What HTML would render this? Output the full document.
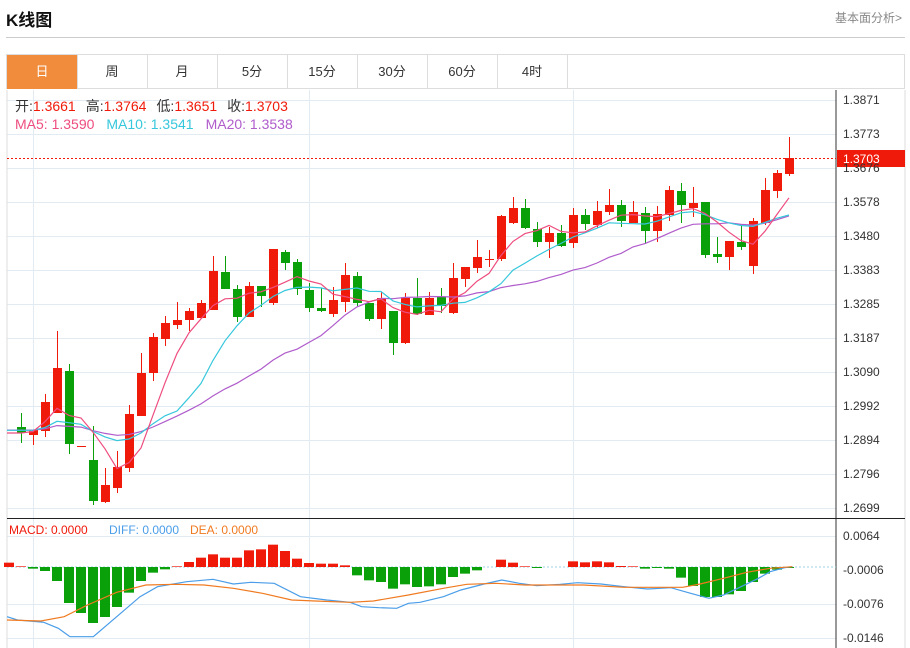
<!DOCTYPE html>
<html><head><meta charset="utf-8"><style>
body{margin:0;background:#fff;width:910px;height:648px;overflow:hidden;font-family:"Liberation Sans","Noto Sans CJK SC",sans-serif;}
.t{position:absolute;left:6px;top:6px;font-size:17px;font-weight:bold;color:#111;}
.more{position:absolute;right:8px;top:9px;font-size:12px;color:#888;}
.hl{position:absolute;left:6px;top:37px;width:899px;height:1px;background:#ccc;}
.tabs{position:absolute;left:6px;top:54px;height:35px;width:899px;border:1px solid #ddd;box-sizing:border-box;}
.tab{position:absolute;top:0;height:34px;width:70px;border-right:1px solid #ddd;text-align:center;line-height:34px;font-size:13px;color:#333;}
.tab.a{background:#f08c3c;color:#fff;}
svg{position:absolute;left:0;top:0;}
</style></head><body>
<div class="t">K线图</div><div class="more">基本面分析&gt;</div>
<div class="hl"></div>
<div class="tabs">
<div class="tab a" style="left:0">日</div><div class="tab" style="left:70px">周</div><div class="tab" style="left:140px">月</div><div class="tab" style="left:210px">5分</div><div class="tab" style="left:280px">15分</div><div class="tab" style="left:350px">30分</div><div class="tab" style="left:420px">60分</div><div class="tab" style="left:490px">4时</div>
</div>
<svg id="s" width="910" height="648" xmlns="http://www.w3.org/2000/svg" font-family="Liberation Sans, Noto Sans CJK SC, sans-serif">
<g id="grid" stroke="#e3ebf2" stroke-width="1"></g>
<line x1="7" y1="90" x2="7" y2="648" stroke="#ddd"/>
<line x1="836" y1="90" x2="836" y2="648" stroke="#333"/>
<line x1="905" y1="90" x2="905" y2="648" stroke="#ddd"/>
<line x1="7" y1="518.5" x2="905" y2="518.5" stroke="#222"/>
<line x1="7" y1="567" x2="836" y2="567" stroke="#9fd3e6" stroke-dasharray="2,2"/>
<g id="c"></g><g id="l"></g>
<line x1="7" y1="158.5" x2="836" y2="158.5" stroke="#f01a0a" stroke-dasharray="2,2"/>
<rect x="837" y="150" width="68" height="17" fill="#f01a0a"/>
<g font-size="12" fill="#333">
<text x="843" y="104">1.3871</text><text x="843" y="138">1.3773</text><text x="843" y="172">1.3676</text><text x="843" y="206">1.3578</text><text x="843" y="240">1.3480</text><text x="843" y="274">1.3383</text><text x="843" y="308">1.3285</text><text x="843" y="342">1.3187</text><text x="843" y="376">1.3090</text><text x="843" y="410">1.2992</text><text x="843" y="444">1.2894</text><text x="843" y="478">1.2796</text><text x="843" y="512">1.2699</text>
<text x="843" y="540">0.0064</text><text x="843" y="574">-0.0006</text><text x="843" y="608">-0.0076</text><text x="843" y="642">-0.0146</text>
</g>
<text x="843" y="163" font-size="12" fill="#fff">1.3703</text>
<g font-size="14">
<text x="15" y="111"><tspan fill="#333">开:</tspan><tspan fill="#f01a0a">1.3661</tspan><tspan fill="#333" dx="10">高:</tspan><tspan fill="#f01a0a">1.3764</tspan><tspan fill="#333" dx="10">低:</tspan><tspan fill="#f01a0a">1.3651</tspan><tspan fill="#333" dx="10">收:</tspan><tspan fill="#f01a0a">1.3703</tspan></text>
<text x="15" y="129"><tspan fill="#ee4d7f">MA5: 1.3590</tspan><tspan dx="12" fill="#36c7dc">MA10: 1.3541</tspan><tspan dx="12" fill="#b05ccb">MA20: 1.3538</tspan></text>
</g>
<g font-size="12"><text x="9" y="534" fill="#f01a0a">MACD: 0.0000</text><text x="109" y="534" fill="#4a9de8">DIFF: 0.0000</text><text x="190" y="534" fill="#f07a20">DEA: 0.0000</text></g>
</svg>
<script>
var NS="http://www.w3.org/2000/svg";
function el(p,n,a){var e=document.createElementNS(NS,n);for(var k in a)e.setAttribute(k,a[k]);document.getElementById(p).appendChild(e);return e;}
[100,134,168,202,236,270,304,338,372,406,440,474,508,536,604,638].forEach(function(y){el("grid","line",{x1:7,x2:836,y1:y+.5,y2:y+.5});});
[33,309,573].forEach(function(x){el("grid","line",{x1:x+.5,x2:x+.5,y1:90,y2:648});});
var D=`g 427 433 413 443
r 430 435 430 445
r 402 431 394 437
r 368 413 331 413
g 371 444 364 454
r 446 446 446 446
g 460 501 426 505
r 485 502 468 503
r 467 488 451 493
r 414 468 405 472
r 373 416 353 416
r 337 373 333 381
r 323 339 316 346
r 320 325 302 329
r 311 320 308 331
r 303 318 300 318
r 271 310 256 310
g 272 289 256 289
g 289 317 285 322
r 286 317 282 317
g 286 296 286 307
r 249 303 249 305
g 252 263 250 270
g 262 289 259 295
g 290 308 283 312
g 308 311 288 312
r 300 314 287 317
r 275 302 263 312
g 276 303 272 306
g 303 319 303 321
r 298 319 292 329
g 311 343 311 355
r 298 343 293 344
g 298 314 278 315
r 298 315 292 315
g 297 306 288 313
r 278 313 263 314
r 267 279 267 287
r 257 268 240 273
r 259 259 250 267
r 216 259 215 261
r 208 223 197 224
g 208 228 199 229
g 229 242 222 247
r 233 242 227 258
g 233 246 225 247
r 215 243 208 248
g 215 224 209 230
r 211 225 201 228
r 205 212 189 215
g 205 221 200 227
r 212 223 201 223
g 213 231 207 244
r 214 231 206 242
r 190 215 186 221
g 191 205 183 223
r 203 208 187 217
g 202 255 202 258
g 254 257 237 263
r 241 257 241 270
g 242 247 225 250
r 221 266 218 274
r 190 223 178 225
r 173 191 170 198
r 158 174 137 176`.split("\n").map(function(s){return s.split(" ");});
var R="#f01a0a",G="#0aa00a",closes=[];
D.forEach(function(d,i){var x=21+12*i,t=+d[1],b=+d[2],h=+d[3],l=+d[4],c=d[0]=="r"?R:G;
closes.push(d[0]=="r"?t:b);
el("c","line",{x1:x+.5,x2:x+.5,y1:h,y2:l,stroke:c});
el("c","rect",{x:x-4,y:t,width:9,height:Math.max(1,b-t),fill:c});});
function ma(n,col){var p=[];for(var i=0;i<closes.length;i++){var s=0,k=0;for(var j=Math.max(0,i-n+1);j<=i;j++){s+=closes[j];k++;}
var v=s/k;if(n>5&&i<n)v=(v*k+430*(n-k))/n;p.push((21+12*i)+","+v.toFixed(1));}
el("l","polyline",{points:"7,"+p[0].split(",")[1]+" "+p.join(" "),fill:"none",stroke:col,"stroke-width":1.2});}
ma(20,"#b05ccb");ma(10,"#36c7dc");ma(5,"#ee4d7f");
var H=[13,2,-5,-12,-42,-108,-138,-168,-150,-120,-77,-42,-17,-7,2,15,28,38,28,28,50,53,67,48,25,12,10,10,5,-25,-40,-45,-65,-52,-60,-58,-52,-30,-20,-10,1,22,13,2,-3,0,1,17,14,17,14,3,2,-5,-3,-5,-32,-57,-90,-90,-82,-72,-45,-20,-8,-3];
H.forEach(function(v,k){var x=9+12*k,h=v/3;if(Math.abs(h)<0.5)return;
el("c","rect",{x:x-5,y:h>0?567-h:567,width:10,height:Math.abs(h),fill:h>0?R:G});});
function ln(pts,col){el("l","polyline",{points:pts.map(function(p){return (p[0]/1.714).toFixed(1)+","+(515+p[1]/3).toFixed(1);}).join(" "),fill:"none",stroke:col,"stroke-width":1.2});}
ln([[12,305],[30,315],[75,322],[100,340],[120,365],[160,365],[200,305],[240,245],[270,215],[320,200],[365,193],[400,207],[430,202],[470,205],[515,245],[560,255],[600,262],[620,275],[650,278],[680,280],[700,265],[720,262],[760,245],[790,225],[830,207],[860,195],[890,205],[920,212],[960,208],[990,203],[1030,207],[1070,215],[1110,222],[1150,218],[1180,233],[1215,250],[1240,240],[1270,215],[1300,190],[1320,170],[1345,158],[1358,155]],"#4a9de8");
ln([[12,315],[70,318],[110,305],[150,270],[200,232],[250,210],[300,208],[350,210],[400,220],[450,235],[500,255],[540,258],[600,262],[640,258],[700,240],[760,220],[800,208],[850,205],[900,210],[1000,210],[1070,217],[1170,217],[1200,207],[1240,190],[1280,172],[1320,160],[1358,155]],"#f07a20");
</script>
</body></html>
